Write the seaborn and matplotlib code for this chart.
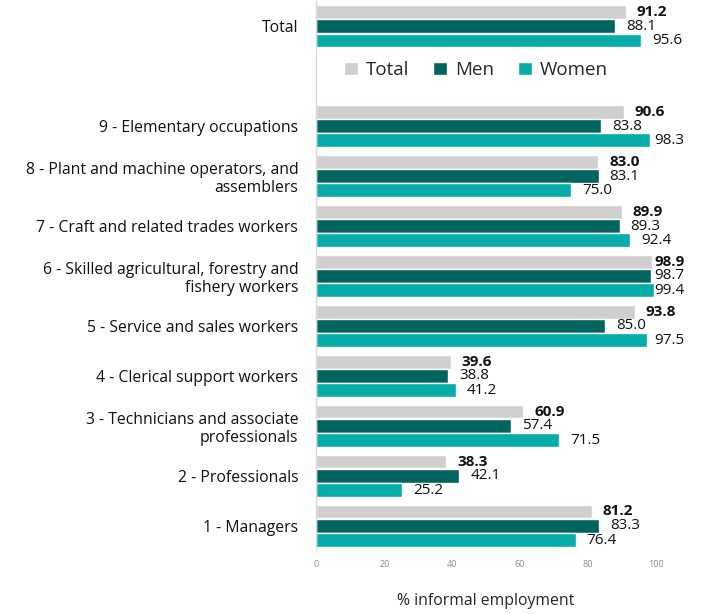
import pandas as pd
import matplotlib
matplotlib.use("Agg")
import matplotlib.pyplot as plt
import seaborn as sns

# Dữ liệu
categories = [
    "Total",
    "9 - Elementary occupations",
    "8 - Plant and machine operators, and\nassemblers",
    "7 - Craft and related trades workers",
    "6 - Skilled agricultural, forestry and\nfishery workers",
    "5 - Service and sales workers",
    "4 - Clerical support workers",
    "3 - Technicians and associate\nprofessionals",
    "2 - Professionals",
    "1 - Managers",
]
total = [91.2, 90.6, 83.0, 89.9, 98.9, 93.8, 39.6, 60.9, 38.3, 81.2]
men = [88.1, 83.8, 83.1, 89.3, 98.7, 85.0, 38.8, 57.4, 42.1, 83.3]
women = [95.6, 98.3, 75.0, 92.4, 99.4, 97.5, 41.2, 71.5, 25.2, 76.4]
groups = ["Total", "Men", "Women"]
colors = ["#D0CECE", "#02645F", "#06ACA8"]

df = pd.DataFrame({"cat": categories, "Total": total, "Men": men, "Women": women})
long = df.melt(id_vars="cat", var_name="group", value_name="value")

# chừa một hàng trống cho chú thích
order = [categories[0], " "] + categories[1:]

sns.set_style("white")
plt.rcParams["font.family"] = ["Open Sans", "DejaVu Sans"]

fig = plt.figure(figsize=(7.03, 6.14), dpi=100)
ax = fig.add_axes([0.45, 0.103, 0.483, 0.895])

sns.barplot(data=long, y="cat", x="value", hue="group", order=order,
            hue_order=groups, palette=colors, orient="h", width=0.86,
            gap=0.03, saturation=1, errorbar=None, ax=ax)

# nhãn giá trị (giữ trong vùng biểu đồ như Excel)
for i, cont in enumerate(ax.containers):
    for bar in cont:
        v = bar.get_width()
        y = bar.get_y() + bar.get_height() / 2
        ax.text(min(v + 3.2, 99.6), y, f"{v:.1f}", va="center", ha="left",
                fontsize=11, color="#111111",
                fontweight="bold" if i == 0 else "normal")

ax.set_xlim(0, 100)
ax.set_ylim(len(order) - 0.5, -0.5)
ax.set_xticks([0, 20, 40, 60, 80, 100])
ax.tick_params(axis="x", labelsize=6.5, colors="#8c8c8c", length=0, pad=7)
ax.tick_params(axis="y", labelsize=11.3, length=0, pad=13, colors="#111111")
for lab in ax.get_yticklabels():
    lab.set_horizontalalignment("right")
ax.set_ylabel("")
ax.set_xlabel("% informal employment", fontsize=11.3, labelpad=17)

for s in ["top", "right", "bottom"]:
    ax.spines[s].set_visible(False)
ax.spines["left"].set_color("#d9d9d9")
ax.spines["left"].set_linewidth(1)

ax.legend(loc="center", bbox_to_anchor=(0.47, 0.875), ncol=3, frameon=False,
          fontsize=13.5, handlelength=0.75, handleheight=0.75, columnspacing=1.3,
          handletextpad=0.4)

fig.savefig("out.png", dpi=100)
